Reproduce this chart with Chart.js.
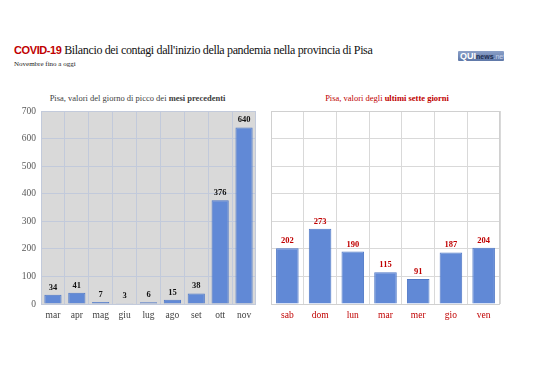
<!DOCTYPE html>
<html><head><meta charset="utf-8">
<script src="https://cdn.jsdelivr.net/npm/chart.js@4"></script>
<style>
html,body{margin:0;padding:0;background:#fff;}
body{width:538px;height:380px;position:relative;overflow:hidden;font-family:'Liberation Serif',serif;}
.abs{position:absolute;}
#t1{left:14px;top:43px;font-family:'Liberation Serif',serif;font-size:12px;letter-spacing:-0.35px;color:#111;white-space:nowrap;}
#t1 b{font-family:'Liberation Sans',sans-serif;color:#c00000;font-weight:bold;font-size:11px;letter-spacing:-0.4px;}
#t2{left:14px;top:60px;font-size:7px;color:#222;}
#logo{left:458px;top:51px;width:46px;height:10px;background:linear-gradient(#8ba0c8,#5f78a8);border-radius:1px;font-family:'Liberation Sans',sans-serif;font-size:9px;line-height:10px;white-space:nowrap;overflow:hidden;}
#logo .q{color:#fff;font-weight:bold;padding-left:2px;}
#logo .n{color:#1d2d50;font-size:7px;font-weight:bold;}
#logo .d{color:#c8d4ec;font-size:7px;}
#s1{left:0;width:275px;top:93px;text-align:center;font-size:8.5px;color:#404040;}
#s2{left:262px;width:250px;top:93px;text-align:center;font-size:8.5px;color:#c00000;}
canvas{position:absolute;}
</style></head><body>
<div id="t1" class="abs"><b>COVID-19</b> Bilancio dei contagi dall'inizio della pandemia nella provincia di Pisa</div>
<div id="t2" class="abs">Novembre fino a oggi</div>
<div id="logo" class="abs"><span class="q">QUI</span><span class="n">news</span><span class="d">.net</span></div>
<div id="s1" class="abs">Pisa, valori del giorno di picco dei <b>mesi precedenti</b></div>
<div id="s2" class="abs">Pisa, valori degli <b>ultimi sette giorni</b></div>
<div class="abs" style="left:0;top:100px;width:262px;height:230px;"><canvas id="c1" width="262" height="230"></canvas></div>
<div class="abs" style="left:262px;top:100px;width:250px;height:230px;"><canvas id="c2" width="250" height="230"></canvas></div>
<script>
const monthLabels = ['mar','apr','mag','giu','lug','ago','set','ott','nov'];
const monthPeaks = [34,41,7,3,6,15,38,376,640];
const dayLabels = ['sab','dom','lun','mar','mer','gio','ven'];
const dayValues = [202,273,190,115,91,187,204];
const yTicks = [0,100,200,300,400,500,600,700];

const barColor = '#6189d6';
const fontSerif = "'Liberation Serif', serif";

function labelPlugin(color){
  return {
    id:'vals',
    afterDatasetsDraw(chart){
      const ctx = chart.ctx;
      const meta = chart.getDatasetMeta(0);
      ctx.save();
      ctx.font = 'bold 8.5px ' + fontSerif;
      ctx.fillStyle = color;
      ctx.textAlign = 'center';
      ctx.textBaseline = 'bottom';
      meta.data.forEach((el,i)=>{
        ctx.fillText(String(chart.data.datasets[0].data[i]), el.x, el.y - 3);
      });
      ctx.restore();
    }
  };
}
function bgPlugin(fill, border){
  return {
    id:'bg',
    beforeDraw(chart){
      const a = chart.chartArea, ctx = chart.ctx;
      ctx.save();
      if(fill){ctx.fillStyle = fill; ctx.fillRect(a.left,a.top,a.right-a.left,a.bottom-a.top);}
      ctx.restore();
    },
    afterDraw(chart){
      if(!border) return;
      const a = chart.chartArea, ctx = chart.ctx;
      ctx.save();
      ctx.strokeStyle = border; ctx.lineWidth = 1;
      ctx.strokeRect(Math.round(a.left)+0.5,Math.round(a.top)+0.5,Math.round(a.right-a.left)-1,Math.round(a.bottom-a.top));
      ctx.restore();
    }
  };
}

new Chart(document.getElementById('c1'),{
  type:'bar',
  data:{labels:monthLabels,datasets:[{data:monthPeaks,backgroundColor:barColor,borderColor:'#4f78c6',borderWidth:1,categoryPercentage:1,barPercentage:0.72}]},
  options:{
    responsive:false,animation:false,
    layout:{padding:{top:11,right:6,left:0,bottom:0}},
    plugins:{legend:{display:false},tooltip:{enabled:false}},
    scales:{
      x:{grid:{color:'#c2cadb',offset:true,drawTicks:false},border:{display:false},
         ticks:{color:'#404040',font:{family:fontSerif,size:9.5},padding:6,maxRotation:0},
         afterFit(s){s.height=26;}},
      y:{min:0,max:700,afterBuildTicks(s){s.ticks=yTicks.map(v=>({value:v}));},
         grid:{color:'#c2cadb',drawTicks:false},border:{display:false},
         ticks:{color:'#595959',font:{family:fontSerif,size:9.5},padding:5},
         afterFit(s){s.width=41;}}
    }
  },
  plugins:[bgPlugin('#d9d9d9',null),labelPlugin('#111')]
});

new Chart(document.getElementById('c2'),{
  type:'bar',
  data:{labels:dayLabels,datasets:[{data:dayValues,backgroundColor:barColor,borderColor:'#4f78c6',borderWidth:1,categoryPercentage:1,barPercentage:0.69}]},
  options:{
    responsive:false,animation:false,
    layout:{padding:{top:11,right:12,left:9,bottom:0}},
    plugins:{legend:{display:false},tooltip:{enabled:false}},
    scales:{
      x:{grid:{color:'#d9d9d9',offset:true,drawTicks:false},border:{display:false},
         ticks:{color:'#c00000',font:{family:fontSerif,size:9.5},padding:6,maxRotation:0},
         afterFit(s){s.height=26;}},
      y:{min:0,max:700,afterBuildTicks(s){s.ticks=yTicks.map(v=>({value:v}));},
         grid:{color:'#d9d9d9',drawTicks:false},border:{display:false},
         ticks:{display:false},afterFit(s){s.width=0;}}
    }
  },
  plugins:[bgPlugin(null,'#d0d0d0'),labelPlugin('#c00000')]
});
</script>
</body></html>
